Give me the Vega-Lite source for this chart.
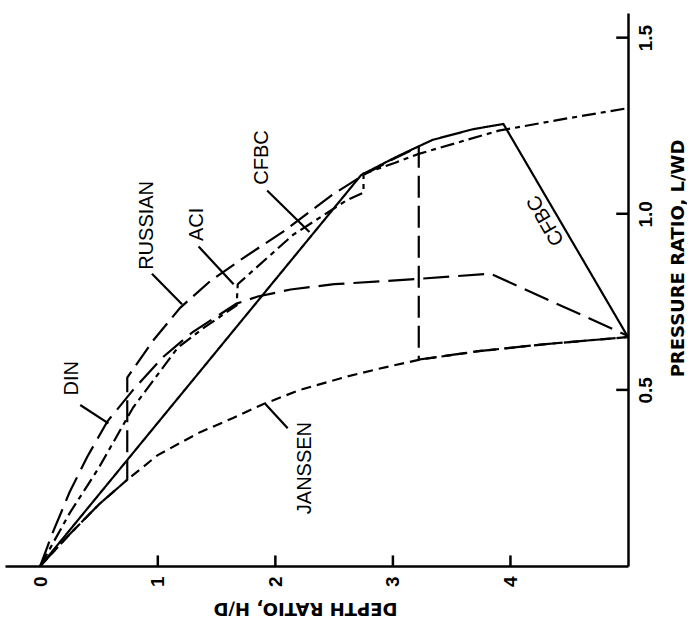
{
  "$schema": "https://vega.github.io/schema/vega-lite/v6.json",
  "width": 623,
  "height": 553,
  "padding": {"left": 5, "top": 13, "right": 0, "bottom": 25},
  "autosize": {"type": "pad"},
  "background": "white",
  "config": {
    "view": {"stroke": null},
    "font": "Liberation Sans",
    "axis": {"grid": false, "ticks": false, "domainColor": "black", "labelColor": "black", "titleColor": "black", "domainWidth": 2.5, "labelFont": "Liberation Sans", "labelFontWeight": "bold", "titleFont": "DejaVu Sans", "titleFontWeight": "bold"}
  },
  "datasets": {
    "curves": [
      {"series": "JANSSEN", "i": 1, "d": 0, "p": 0},
      {"series": "JANSSEN", "i": 2, "d": 0.25, "p": 0.09},
      {"series": "JANSSEN", "i": 3, "d": 0.5, "p": 0.175},
      {"series": "JANSSEN", "i": 4, "d": 0.74, "p": 0.245},
      {"series": "JANSSEN", "i": 5, "d": 1.0, "p": 0.315},
      {"series": "JANSSEN", "i": 6, "d": 1.36, "p": 0.38},
      {"series": "JANSSEN", "i": 7, "d": 1.64, "p": 0.42},
      {"series": "JANSSEN", "i": 8, "d": 1.9, "p": 0.46},
      {"series": "JANSSEN", "i": 9, "d": 2.21, "p": 0.5},
      {"series": "JANSSEN", "i": 10, "d": 2.6, "p": 0.537},
      {"series": "JANSSEN", "i": 11, "d": 2.88, "p": 0.56},
      {"series": "JANSSEN", "i": 12, "d": 3.23, "p": 0.586},
      {"series": "JANSSEN", "i": 13, "d": 3.73, "p": 0.61},
      {"series": "JANSSEN", "i": 14, "d": 4.3, "p": 0.63},
      {"series": "JANSSEN", "i": 15, "d": 5.0, "p": 0.65},
      {"series": "RUSSIAN", "i": 1, "d": 0, "p": 0},
      {"series": "RUSSIAN", "i": 2, "d": 0.25, "p": 0.09},
      {"series": "RUSSIAN", "i": 3, "d": 0.5, "p": 0.175},
      {"series": "RUSSIAN", "i": 4, "d": 0.74, "p": 0.245},
      {"series": "RUSSIAN", "i": 5, "d": 0.74, "p": 0.535},
      {"series": "RUSSIAN", "i": 6, "d": 0.96, "p": 0.64},
      {"series": "RUSSIAN", "i": 7, "d": 1.19, "p": 0.733},
      {"series": "RUSSIAN", "i": 8, "d": 1.45, "p": 0.81},
      {"series": "RUSSIAN", "i": 9, "d": 1.73, "p": 0.875},
      {"series": "RUSSIAN", "i": 10, "d": 2.07, "p": 0.95},
      {"series": "RUSSIAN", "i": 11, "d": 2.49, "p": 1.055},
      {"series": "RUSSIAN", "i": 12, "d": 2.75, "p": 1.11},
      {"series": "RUSSIAN", "i": 13, "d": 3.0, "p": 1.155},
      {"series": "RUSSIAN", "i": 14, "d": 3.22, "p": 1.19},
      {"series": "RUSSIAN", "i": 15, "d": 3.22, "p": 0.586},
      {"series": "RUSSIAN", "i": 16, "d": 3.73, "p": 0.61},
      {"series": "RUSSIAN", "i": 17, "d": 4.3, "p": 0.63},
      {"series": "RUSSIAN", "i": 18, "d": 5.0, "p": 0.65},
      {"series": "CFBC", "i": 1, "d": 0, "p": 0},
      {"series": "CFBC", "i": 2, "d": 2.73, "p": 1.11},
      {"series": "CFBC", "i": 3, "d": 3.02, "p": 1.16},
      {"series": "CFBC", "i": 4, "d": 3.21, "p": 1.19},
      {"series": "CFBC", "i": 5, "d": 3.34, "p": 1.21},
      {"series": "CFBC", "i": 6, "d": 3.68, "p": 1.24},
      {"series": "CFBC", "i": 7, "d": 3.94, "p": 1.255},
      {"series": "CFBC", "i": 8, "d": 5.0, "p": 0.65},
      {"series": "DIN", "i": 1, "d": 0, "p": 0},
      {"series": "DIN", "i": 2, "d": 0.1, "p": 0.09},
      {"series": "DIN", "i": 3, "d": 0.25, "p": 0.21},
      {"series": "DIN", "i": 4, "d": 0.4, "p": 0.31},
      {"series": "DIN", "i": 5, "d": 0.57, "p": 0.41},
      {"series": "DIN", "i": 6, "d": 0.79, "p": 0.5},
      {"series": "DIN", "i": 7, "d": 1.05, "p": 0.595},
      {"series": "DIN", "i": 8, "d": 1.3, "p": 0.665},
      {"series": "DIN", "i": 9, "d": 1.67, "p": 0.745},
      {"series": "DIN", "i": 10, "d": 1.85, "p": 0.765},
      {"series": "DIN", "i": 11, "d": 2.13, "p": 0.785},
      {"series": "DIN", "i": 12, "d": 2.5, "p": 0.8},
      {"series": "DIN", "i": 13, "d": 3.21, "p": 0.815},
      {"series": "DIN", "i": 14, "d": 3.83, "p": 0.83},
      {"series": "DIN", "i": 15, "d": 5.0, "p": 0.653},
      {"series": "ACI", "i": 1, "d": 0, "p": 0},
      {"series": "ACI", "i": 2, "d": 0.25, "p": 0.15},
      {"series": "ACI", "i": 3, "d": 0.5, "p": 0.28},
      {"series": "ACI", "i": 4, "d": 0.79, "p": 0.45},
      {"series": "ACI", "i": 5, "d": 1.17, "p": 0.62},
      {"series": "ACI", "i": 6, "d": 1.39, "p": 0.676},
      {"series": "ACI", "i": 7, "d": 1.67, "p": 0.74},
      {"series": "ACI", "i": 8, "d": 1.68, "p": 0.8},
      {"series": "ACI", "i": 9, "d": 2.15, "p": 0.94},
      {"series": "ACI", "i": 10, "d": 2.6, "p": 1.037},
      {"series": "ACI", "i": 11, "d": 2.75, "p": 1.06},
      {"series": "ACI", "i": 12, "d": 2.75, "p": 1.114},
      {"series": "ACI", "i": 13, "d": 3.02, "p": 1.145},
      {"series": "ACI", "i": 14, "d": 3.22, "p": 1.17},
      {"series": "ACI", "i": 15, "d": 3.9, "p": 1.236},
      {"series": "ACI", "i": 16, "d": 4.47, "p": 1.27},
      {"series": "ACI", "i": 17, "d": 5.0, "p": 1.3}
    ],
    "leaders": [
      {"label": "DIN", "d": 0.34, "p": 0.457, "d2": 0.58, "p2": 0.405},
      {"label": "JANSSEN", "d": 2.105, "p": 0.391, "d2": 1.915, "p2": 0.46},
      {"label": "RUSSIAN", "d": 0.95, "p": 0.83, "d2": 1.206, "p2": 0.743},
      {"label": "ACI", "d": 1.347, "p": 0.907, "d2": 1.645, "p2": 0.8},
      {"label": "CFBC", "d": 1.93, "p": 1.066, "d2": 2.29, "p2": 0.948}
    ],
    "ticks": [
      {"d": 1, "p": 0, "d2": 1, "p2": 0.03},
      {"d": 2, "p": 0, "d2": 2, "p2": 0.03},
      {"d": 3, "p": 0, "d2": 3, "p2": 0.03},
      {"d": 4, "p": 0, "d2": 4, "p2": 0.03},
      {"d": 4.9, "p": 0.5, "d2": 5, "p2": 0.5},
      {"d": 4.9, "p": 1.0, "d2": 5, "p2": 1.0},
      {"d": 4.9, "p": 1.5, "d2": 5, "p2": 1.5}
    ],
    "labels": [
      {"label": "DIN", "d": 0.27, "p": 0.533},
      {"label": "JANSSEN", "d": 2.255, "p": 0.278},
      {"label": "RUSSIAN", "d": 0.908, "p": 0.967},
      {"label": "ACI", "d": 1.333, "p": 0.97},
      {"label": "CFBC", "d": 1.887, "p": 1.16}
    ],
    "label2": [
      {"label": "CFBC", "d": 4.3, "p": 0.981}
    ]
  },
  "layer": [
    {
      "data": {"name": "curves"},
      "mark": {"type": "line", "color": "black", "strokeWidth": 2.2},
      "encoding": {
        "x": {"field": "d", "type": "quantitative", "scale": {"domain": [-0.3, 5], "nice": false, "zero": false},
          "axis": {"values": [0, 1, 2, 3, 4], "labelAngle": 270, "labelFontSize": 19, "labelPadding": 10, "format": "d",
            "title": "DEPTH RATIO, H/D", "titleAngle": 180, "titleFontSize": 18, "titleX": 300, "titleY": 41, "titleAlign": "center", "titleBaseline": "middle"}},
        "y": {"field": "p", "type": "quantitative", "scale": {"domain": [0, 1.57], "nice": false},
          "axis": {"orient": "right", "values": [0.5, 1.0, 1.5], "labelAngle": 270, "labelFontSize": 19, "labelPadding": 8, "format": ".1f",
            "title": "PRESSURE RATIO, L/WD", "titleAngle": 270, "titleFontSize": 18, "titleX": 50, "titleY": 245, "titleAlign": "center", "titleBaseline": "middle"}},
        "strokeDash": {"field": "series", "type": "nominal", "legend": null,
          "scale": {"domain": ["JANSSEN", "RUSSIAN", "CFBC", "DIN", "ACI"], "range": [[10, 6], [22, 8], [1, 0], [26, 9], [14, 5, 5, 5]]}},
        "order": {"field": "i", "type": "quantitative"}
      }
    },
    {
      "data": {"name": "ticks"},
      "mark": {"type": "rule", "color": "black", "strokeWidth": 2.5},
      "encoding": {
        "x": {"field": "d", "type": "quantitative"},
        "y": {"field": "p", "type": "quantitative"},
        "x2": {"field": "d2"},
        "y2": {"field": "p2"}
      }
    },
    {
      "data": {"name": "leaders"},
      "mark": {"type": "rule", "color": "black", "strokeWidth": 2.2},
      "encoding": {
        "x": {"field": "d", "type": "quantitative"},
        "y": {"field": "p", "type": "quantitative"},
        "x2": {"field": "d2"},
        "y2": {"field": "p2"}
      }
    },
    {
      "data": {"name": "labels"},
      "mark": {"type": "text", "angle": 270, "fontSize": 20, "font": "Liberation Sans", "color": "black", "align": "center", "baseline": "middle"},
      "encoding": {
        "x": {"field": "d", "type": "quantitative"},
        "y": {"field": "p", "type": "quantitative"},
        "text": {"field": "label"}
      }
    },
    {
      "data": {"name": "label2"},
      "mark": {"type": "text", "angle": 240, "fontSize": 20, "font": "Liberation Sans", "color": "black", "align": "center", "baseline": "middle"},
      "encoding": {
        "x": {"field": "d", "type": "quantitative"},
        "y": {"field": "p", "type": "quantitative"},
        "text": {"field": "label"}
      }
    }
  ]
}
